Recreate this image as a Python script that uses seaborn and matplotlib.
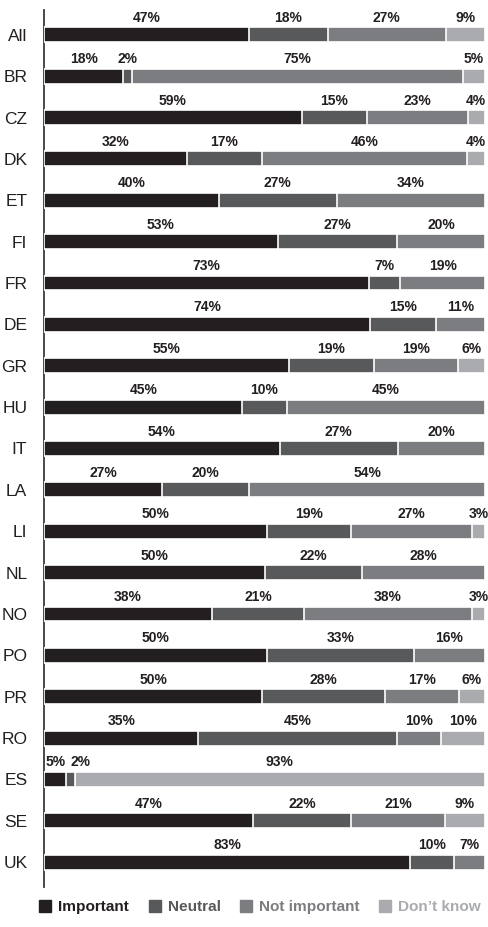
import numpy as np
import pandas as pd
import matplotlib
matplotlib.use("Agg")
import matplotlib.pyplot as plt
import seaborn as sns
from matplotlib.lines import Line2D

countries = ["All", "BR", "CZ", "DK", "ET", "FI", "FR", "DE", "GR", "HU", "IT",
             "LA", "LI", "NL", "NO", "PO", "PR", "RO", "ES", "SE", "UK"]
important = [47, 18, 59, 32, 40, 53, 73, 74, 55, 45, 54, 27, 50, 50, 38, 50, 50, 35, 5, 47, 83]
neutral = [18, 2, 15, 17, 27, 27, 7, 15, 19, 10, 27, 20, 19, 22, 21, 33, 28, 45, 2, 22, 10]
not_important = [27, 75, 23, 46, 34, 20, 19, 11, 19, 45, 20, 54, 27, 28, 38, 16, 17, 10, 0, 21, 7]
dont_know = [9, 5, 4, 4, 0, 0, 0, 0, 6, 0, 0, 0, 3, 0, 3, 0, 6, 10, 93, 9, 0]
series_names = ["Important", "Neutral", "Not important", "Don\u2019t know"]
colors = ["#231f20", "#58595b", "#7c7d80", "#a9abae"]

sns.set_theme(style="white")
plt.rcParams["font.family"] = ["Liberation Sans", "DejaVu Sans"]

vals = np.array([important, neutral, not_important, dont_know], dtype=float)
totals = vals.sum(axis=0)
shares = vals / totals * 100
cum = np.cumsum(shares, axis=0)

fig = plt.figure(figsize=(4.88, 9.27), dpi=100)
ax = fig.add_axes([44 / 488, 1 - 887 / 927, 441 / 488, (887 - 10) / 927])

for k in range(3, -1, -1):
    df = pd.DataFrame({"country": countries, "value": cum[k]})
    sns.barplot(data=df, x="value", y="country", orient="h", color=colors[k],
                width=0.36, edgecolor="white", linewidth=1.2, saturation=1,
                ax=ax, zorder=5 - k)

half_w = 2.6    # approx half label width in data units
min_gap = 5.6   # min distance between label centers
for i in range(len(countries)):
    prev = -1e9
    for k in range(4):
        v = vals[k, i]
        if v <= 0:
            continue
        left = cum[k, i] - shares[k, i]
        cx = left + shares[k, i] / 2
        cx = max(cx, half_w, prev + min_gap)
        prev = cx
        ax.text(cx, i - 0.41, f"{int(v)}%", ha="center", va="center",
                fontsize=10, fontweight="bold", color="#231f20")

ax.set_xlim(0, 100)
ax.set_ylim(20.6, -0.6)
ax.set_xlabel("")
ax.set_ylabel("")
ax.set_xticks([])
ax.tick_params(axis="y", length=0, pad=12, labelsize=12.5, labelcolor="#231f20")
for s in ["top", "right", "bottom"]:
    ax.spines[s].set_visible(False)
ax.spines["left"].set_color("#3a3a3a")
ax.spines["left"].set_linewidth(1.3)

handles = [Line2D([0], [0], marker="s", linestyle="none", markersize=8,
                  markerfacecolor=c, markeredgecolor=c) for c in colors]
leg = fig.legend(handles, series_names, loc="center", bbox_to_anchor=(0.532, 1 - 907 / 927),
                 ncol=4, frameon=False, handletextpad=0.4, columnspacing=1.2,
                 prop={"weight": "bold", "size": 11.1}, handlelength=0.9,
                 borderpad=0, borderaxespad=0)
for t, c in zip(leg.get_texts(), colors):
    t.set_color(c)

fig.savefig("out.png", dpi=100)
